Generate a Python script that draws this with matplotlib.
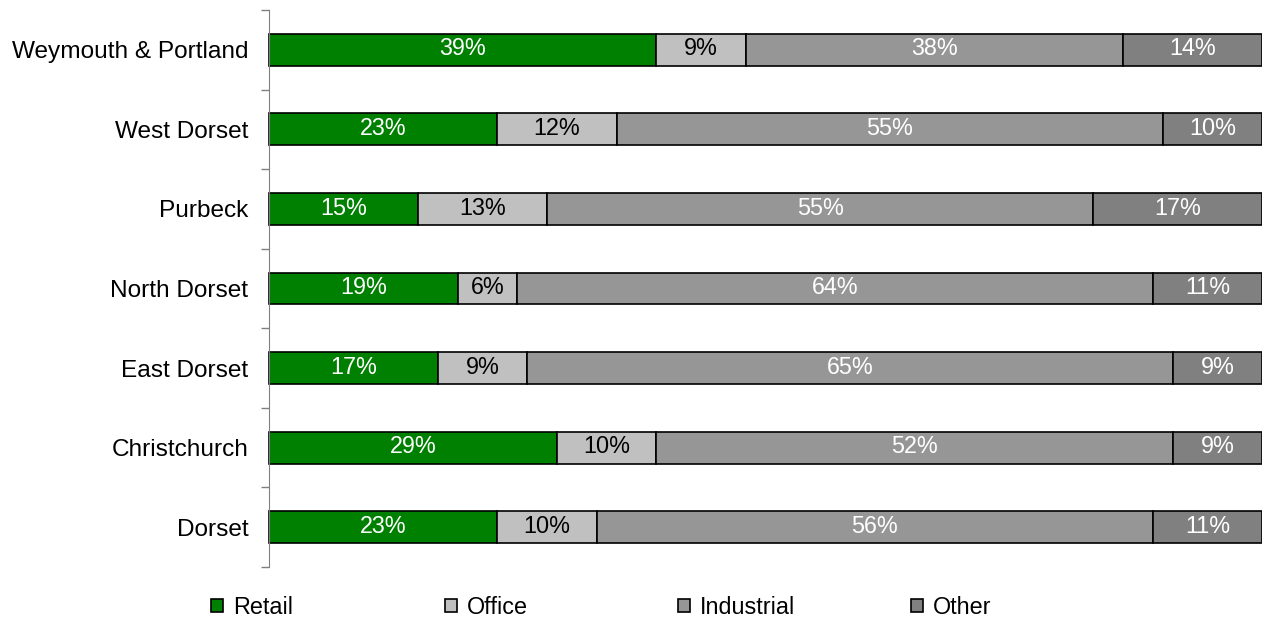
import matplotlib.pyplot as plt
import matplotlib.patches as mpatches
import numpy as np

plt.rcParams['font.family'] = ['Liberation Sans', 'DejaVu Sans']

areas = ["Weymouth & Portland", "West Dorset", "Purbeck", "North Dorset",
         "East Dorset", "Christchurch", "Dorset"]
retail = [39, 23, 15, 19, 17, 29, 23]
office = [9, 12, 13, 6, 9, 10, 10]
industrial = [38, 55, 55, 64, 65, 52, 56]
other = [14, 10, 17, 11, 9, 9, 11]

series = [("Retail", retail, "#008000", "white"),
          ("Office", office, "#c0c0c0", "black"),
          ("Industrial", industrial, "#969696", "white"),
          ("Other", other, "#808080", "white")]

fig = plt.figure(figsize=(12.62, 6.24), dpi=100)
ax = fig.add_axes([269 / 1262, 1 - 567 / 624, 1 - 269 / 1262, 557 / 624])

y = np.arange(len(areas))
left = np.zeros(len(areas))
for name, vals, col, tcol in series:
    vals = np.array(vals, dtype=float)
    ax.barh(y, vals, left=left, height=0.40, color=col, edgecolor="black",
            linewidth=1.2, label=name, clip_on=False)
    for yi, l, v in zip(y, left, vals):
        ax.text(l + v / 2, yi - 0.01, f"{v:.0f}%", ha="center", va="center",
                color=tcol, fontsize=16.8)
    left += vals

ax.set_xlim(0, 100)
ax.set_ylim(len(areas) - 0.5, -0.5)
ax.set_xticks([])

# boundary ticks on the axis, category names between them
ax.set_yticks(np.arange(len(areas) + 1) - 0.5)
ax.set_yticklabels([])
ax.set_yticks(y, minor=True)
ax.set_yticklabels(areas, minor=True, fontsize=17.6)
ax.tick_params(axis="y", which="major", length=6, color="#808080", width=1)
ax.tick_params(axis="y", which="minor", length=0, pad=15)

for s in ["top", "right", "bottom"]:
    ax.spines[s].set_visible(False)
ax.spines["left"].set_color("#808080")

# legend entries spaced evenly along the bottom
leg_x = [211, 445, 678, 911]
for (name, vals, col, tcol), lx in zip(series, leg_x):
    h = mpatches.Patch(facecolor=col, edgecolor="black", linewidth=1.2)
    fig.legend(handles=[h], labels=[name], loc="center left",
               bbox_to_anchor=(lx / 1262, 1 - 607 / 624), frameon=False,
               fontsize=16.8, handlelength=0.5, handleheight=0.5,
               handletextpad=0.45, borderpad=0, borderaxespad=0)

fig.savefig("out.png", dpi=100)
